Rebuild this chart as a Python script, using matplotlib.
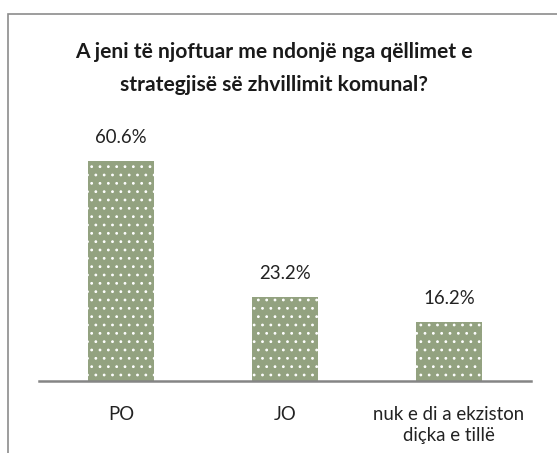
import matplotlib.pyplot as plt
from matplotlib.patches import Rectangle

categories = ["PO", "JO", "nuk e di a ekziston\ndiçka e tillë"]
values = [60.6, 23.2, 16.2]
title = "A jeni të njoftuar me ndonjë nga qëllimet e\nstrategjisë së zhvillimit komunal?"

W, H = 557, 453
PX = 72 / 100  # points per pixel at dpi 100

def fit_size(fig, text, target_px, weight="normal"):
  # pick a font size so the text comes out about target_px wide
  r = fig.canvas.get_renderer()
  t = fig.text(0, 0, text, fontsize=10, fontweight=weight)
  w = t.get_window_extent(r).width
  t.remove()
  return 10 * target_px / w

def main():
  plt.rcParams['font.family'] = ['Lato', 'DejaVu Sans']
  plt.rcParams['hatch.linewidth'] = 0.8
  fig = plt.figure(figsize=(W / 100, H / 100), dpi=100)

  lab_fs = fit_size(fig, "nuk e di a ekziston", 152)
  title_lines = title.split("\n")
  title_fs = fit_size(fig, title_lines[0], 398, "bold")

  # chart frame (runs off the right and bottom edges)
  fig.patches.append(Rectangle((8 / W, -0.1), 1.2, 1.1 - 13.5 / H,
                               transform=fig.transFigure, fill=False,
                               edgecolor="#8c8c8c", linewidth=1.2))

  ax = fig.add_axes([39 / W, 72 / H, 492 / W, 254 / H])
  x = list(range(len(values)))
  bars = ax.bar(x, values, width=0.40, color="#93a280",
                edgecolor="white", linewidth=0, hatch="..")
  for b, v in zip(bars, values):
    ax.annotate(f"{v:.1f}%", (b.get_x() + b.get_width() / 2, v),
                xytext=(0, 23.5 * PX), textcoords="offset points",
                ha="center", va="center", fontsize=lab_fs, color="#222222")

  ax.set_xlim(-0.5, 2.5)
  ax.set_ylim(0, 70)
  ax.set_yticks([])
  ax.set_xticks(x)
  ax.set_xticklabels([])
  ax.tick_params(axis="x", length=0)
  # category labels, one line at a time
  for i, cat in enumerate(categories):
    for j, line in enumerate(cat.split("\n")):
      ax.annotate(line, (i, 0), xycoords=("data", "axes fraction"),
                  xytext=(0, -(33 + 21.5 * j) * PX), textcoords="offset points",
                  ha="center", va="center", fontsize=lab_fs, color="#222222")
  for s in ["top", "right", "left"]:
    ax.spines[s].set_visible(False)
  ax.spines["bottom"].set_color("#858585")
  ax.spines["bottom"].set_linewidth(1.8)

  for j, line in enumerate(title_lines):
    fig.text(274 / W, 1 - (51.6 + 33.4 * j) / H, line, ha="center", va="center",
             fontsize=title_fs, fontweight="bold", color="#1a1a1a")

  fig.savefig("out.png", dpi=100)

if __name__ == "__main__":
  main()
